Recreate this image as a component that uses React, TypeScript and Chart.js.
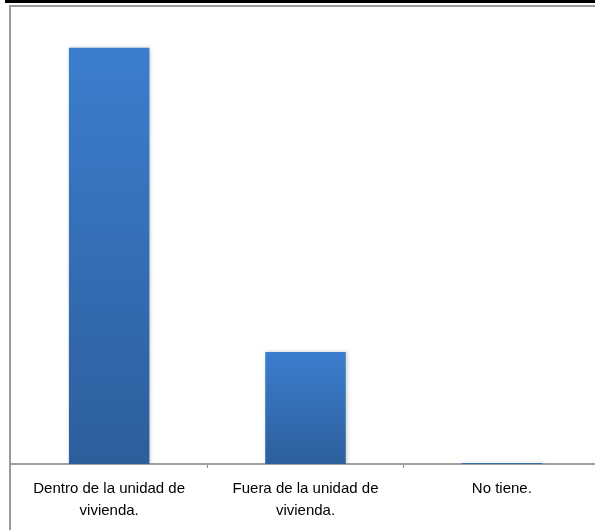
import React, { useEffect, useRef } from "react";
import { Chart, registerables } from "chart.js";

Chart.register(...registerables);

const categories: string[][] = [
  ["Dentro de la unidad de", "vivienda."],
  ["Fuera de la unidad de", "vivienda."],
  ["No tiene."],
];
const values: number[] = [375, 101, 1];
const yMax = 400;

const shadowPlugin = {
  id: "barShadow",
  beforeDatasetsDraw(chart: any) {
    const ctx = chart.ctx;
    ctx.save();
    ctx.shadowColor = "rgba(0,0,0,0.22)";
    ctx.shadowBlur = 4;
    ctx.shadowOffsetX = 1;
    ctx.shadowOffsetY = 0;
  },
  afterDatasetsDraw(chart: any) {
    chart.ctx.restore();
  },
};

function barFill(c: any) {
  const chart = c.chart;
  const ys = chart.scales && chart.scales.y;
  if (!ys || c.dataIndex === undefined) return "#3570b8";
  const v = c.raw ?? values[c.dataIndex];
  const top = ys.getPixelForValue(v);
  const base = ys.getPixelForValue(0);
  if (!isFinite(top) || !isFinite(base) || base - top < 1) return "#3570b8";
  const g = chart.ctx.createLinearGradient(0, top, 0, base);
  g.addColorStop(0, "#3b7ece");
  g.addColorStop(1, "#2d5e9c");
  return g;
}

export default function App() {
  const ref = useRef<HTMLCanvasElement | null>(null);
  useEffect(() => {
    if (!ref.current) return;
    const chart = new Chart(ref.current, {
      type: "bar",
      data: {
        labels: categories,
        datasets: [
          {
            data: values,
            backgroundColor: barFill,
            barPercentage: 0.41,
            categoryPercentage: 1,
          },
        ],
      },
      options: {
        animation: false,
        responsive: false,
        maintainAspectRatio: false,
        layout: { padding: { top: 20, left: 0, right: 0, bottom: 0 } },
        plugins: { legend: { display: false }, tooltip: { enabled: false } },
        scales: {
          y: { display: false, min: 0, max: yMax },
          x: {
            offset: true,
            grid: {
              offset: true,
              drawOnChartArea: false,
              drawTicks: true,
              tickLength: 4,
              color: "#8c8c8c",
            },
            border: { display: true, color: "#a0a0a0", width: 2 },
            ticks: {
              padding: 10,
              maxRotation: 0,
              autoSkip: false,
              color: "#000",
              font: { family: "'Liberation Sans', Arial, sans-serif", size: 15, lineHeight: 1.467 },
            },
            afterFit: (scale: any) => {
              scale.height = 66;
            },
          },
        },
      },
      plugins: [shadowPlugin],
    });
    return () => chart.destroy();
  }, []);

  return (
    <div style={{ position: "fixed", left: 0, top: 0, width: 595, height: 530, overflow: "hidden", background: "#fff" }}>
      <div style={{ position: "absolute", left: 5, top: 0, width: 600, height: 3, background: "#000" }} />
      <div style={{ position: "absolute", left: 9, top: 5, width: 600, height: 2, background: "#9a9a9a" }} />
      <div style={{ position: "absolute", left: 9, top: 5, width: 2, height: 530, background: "#9a9a9a" }} />
      <canvas ref={ref} width={589} height={530} style={{ position: "absolute", left: 11, top: 0, width: 589, height: 530 }} />
    </div>
  );
}
